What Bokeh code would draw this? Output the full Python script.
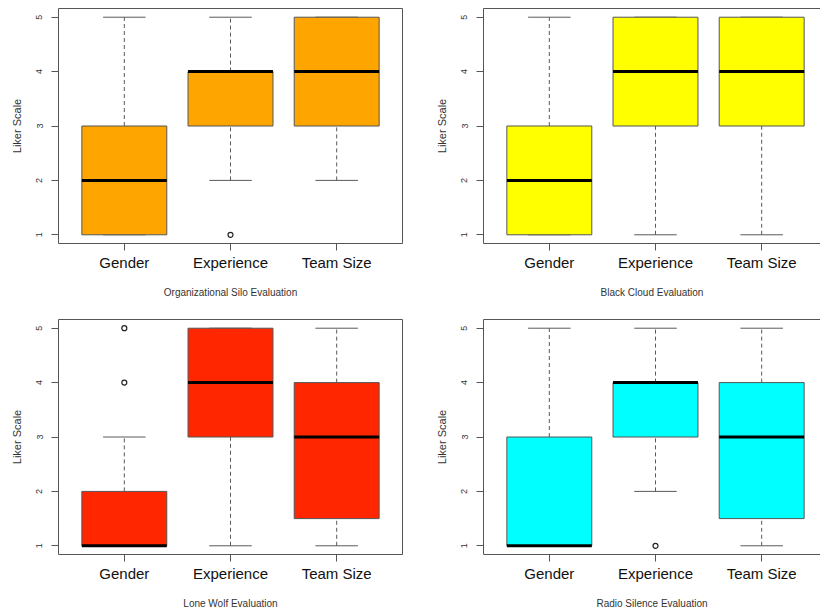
from bokeh.plotting import figure
from bokeh.models import Range1d, FixedTicker, LinearAxis, ColumnDataSource
from bokeh.layouts import column, row
from bokeh.transform import dodge
from bokeh.embed import file_html
from bokeh.resources import INLINE

# ---------------- data ----------------
categories = ["Gender", "Experience", "Team Size"]
y_ticks = [1, 2, 3, 4, 5]
y_label = "Liker Scale"

silo_title = "Organizational Silo Evaluation"
silo_low = [1, 2, 2]
silo_q1 = [1, 3, 3]
silo_med = [2, 4, 4]
silo_q3 = [3, 4, 5]
silo_high = [5, 5, 5]
silo_out_cat = ["Experience"]
silo_out_val = [1]

cloud_title = "Black Cloud Evaluation"
cloud_low = [1, 1, 1]
cloud_q1 = [1, 3, 3]
cloud_med = [2, 4, 4]
cloud_q3 = [3, 5, 5]
cloud_high = [5, 5, 5]
cloud_out_cat = []
cloud_out_val = []

wolf_title = "Lone Wolf Evaluation"
wolf_low = [1, 1, 1]
wolf_q1 = [1, 3, 1.5]
wolf_med = [1, 4, 3]
wolf_q3 = [2, 5, 4]
wolf_high = [3, 5, 5]
wolf_out_cat = ["Gender", "Gender"]
wolf_out_val = [4, 5]

radio_title = "Radio Silence Evaluation"
radio_low = [1, 2, 1]
radio_q1 = [1, 3, 1.5]
radio_med = [1, 4, 3]
radio_q3 = [3, 4, 4]
radio_high = [5, 5, 5]
radio_out_cat = ["Experience"]
radio_out_val = [1]

# ---------------- styling ----------------
FONT = "Liberation Sans"
FRAME = "#555555"
WHISK = "#5a5a5a"


def make_panel(title, color, low, q1, med, q3, high, out_cat, out_val,
               right, width, height, bl, br, bt, bb):
    xs = [categories.index(c) + 1 for c in categories]
    frame_w = width - bl - br
    x_end = 0.38 + frame_w * 3.24 / 344
    p = figure(width=width, height=height, output_backend="svg",
               toolbar_location=None,
               x_range=Range1d(0.38, x_end), y_range=Range1d(0.84, 5.16),
               min_border_left=bl, min_border_right=br,
               min_border_top=bt, min_border_bottom=bb)
    p.xgrid.visible = False
    p.ygrid.visible = False
    p.background_fill_color = "white"
    p.border_fill_color = "white"

    src = ColumnDataSource(dict(x=xs, low=low, q1=q1, med=med, q3=q3, high=high))

    # whiskers (dashed)
    p.segment(x0="x", y0="q3", x1="x", y1="high", source=src,
              line_color=WHISK, line_width=1, line_dash="4 3")
    p.segment(x0="x", y0="low", x1="x", y1="q1", source=src,
              line_color=WHISK, line_width=1, line_dash="4 3")
    # caps
    p.segment(x0=dodge("x", -0.2), y0="high", x1=dodge("x", 0.2), y1="high",
              source=src, line_color=WHISK, line_width=1)
    p.segment(x0=dodge("x", -0.2), y0="low", x1=dodge("x", 0.2), y1="low",
              source=src, line_color=WHISK, line_width=1)
    # boxes
    p.vbar(x="x", width=0.8, bottom="q1", top="q3", source=src,
           fill_color=color, line_color=FRAME, line_width=1)
    # medians
    p.segment(x0=dodge("x", -0.4), y0="med", x1=dodge("x", 0.4), y1="med",
              source=src, line_color="black", line_width=3)
    # outliers
    if out_val:
        p.scatter(x=[categories.index(c) + 1 for c in out_cat], y=out_val,
                  marker="circle", size=5, fill_color=None,
                  line_color="#222222", line_width=1.2)

    xa = p.xaxis[0]
    xa.ticker = FixedTicker(ticks=xs)
    xa.major_label_overrides = {x: c for x, c in zip(xs, categories)}
    xa.major_label_text_font = FONT
    xa.major_label_text_font_size = "15px"
    xa.major_label_text_color = "#111111"
    xa.major_tick_out = 7
    xa.major_tick_in = 0
    xa.minor_tick_out = 0
    xa.minor_tick_in = 0
    xa.major_tick_line_color = FRAME
    xa.major_label_standoff = 3
    xa.axis_label = title
    xa.axis_label_text_font = FONT
    xa.axis_label_text_font_size = "10px"
    xa.axis_label_text_font_style = "normal"
    xa.axis_label_text_color = "#333333"
    xa.axis_label_standoff = 13

    ya = p.yaxis[0]
    ya.ticker = FixedTicker(ticks=y_ticks)
    ya.major_label_orientation = "vertical"
    ya.major_label_text_font = FONT
    ya.major_label_text_font_size = "9px"
    ya.major_label_text_color = "#333333"
    ya.major_tick_out = 7
    ya.major_tick_in = 0
    ya.minor_tick_out = 0
    ya.minor_tick_in = 0
    ya.major_tick_line_color = FRAME
    ya.major_label_standoff = 9
    ya.axis_label = y_label
    ya.axis_label_text_font = FONT
    ya.axis_label_text_font_size = "11px"
    ya.axis_label_text_font_style = "normal"
    ya.axis_label_text_color = "#333333"
    ya.axis_label_standoff = 11

    if right:
        p.outline_line_color = None
        xa.axis_line_color = FRAME
        ya.axis_line_color = FRAME
        top = LinearAxis(ticker=FixedTicker(ticks=[]), major_tick_out=0,
                         major_tick_in=0, minor_tick_out=0, minor_tick_in=0,
                         major_label_text_font_size="0px",
                         axis_line_color=FRAME)
        p.add_layout(top, "above")
    else:
        p.outline_line_color = FRAME
        p.outline_line_width = 1
        xa.axis_line_color = None
        ya.axis_line_color = None
    return p


p1 = make_panel(silo_title, "#FFA500", silo_low, silo_q1, silo_med, silo_q3,
                silo_high, silo_out_cat, silo_out_val,
                False, 410, 306, 58, 8, 6, 63)
p2 = make_panel(cloud_title, "#FFFF00", cloud_low, cloud_q1, cloud_med, cloud_q3,
                cloud_high, cloud_out_cat, cloud_out_val,
                True, 410, 306, 73, 0, 8, 61)
p3 = make_panel(wolf_title, "#FF2600", wolf_low, wolf_q1, wolf_med, wolf_q3,
                wolf_high, wolf_out_cat, wolf_out_val,
                False, 410, 306, 58, 8, 13, 57)
p4 = make_panel(radio_title, "#00FFFF", radio_low, radio_q1, radio_med, radio_q3,
                radio_high, radio_out_cat, radio_out_val,
                True, 410, 306, 73, 0, 11, 58)

layout = column(row(p1, p2), row(p3, p4))
open("out.html", "w").write(file_html(layout, INLINE))
